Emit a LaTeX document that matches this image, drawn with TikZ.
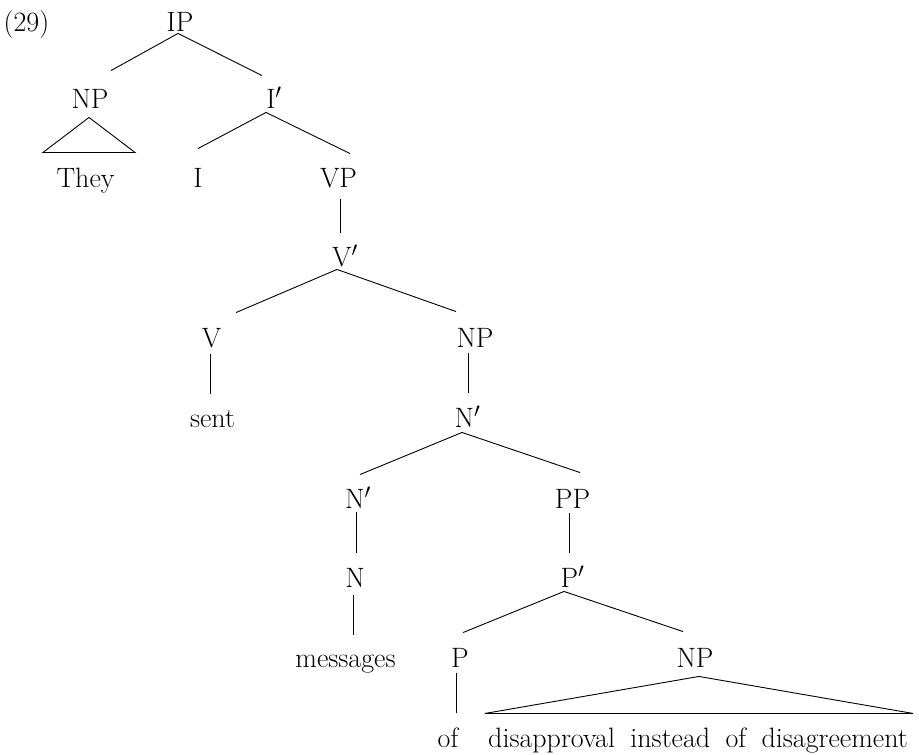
\documentclass[tikz,border=0pt]{standalone}
\usetikzlibrary{calc}
\newcommand\treeedge[6]{\draw ([shift={(#2,#3)}]#1.south) -- ([shift={(#5,#6)}]#4.north);}
\begin{document}
\begin{tikzpicture}[x=1pt,y=-1pt,
  lab/.style={inner sep=0pt,text height=18pt,text depth=0pt,anchor=base,font=\fontsize{28}{32}\selectfont},
  every path/.style={line width=0.9pt}]
\useasboundingbox (0,0) rectangle (919,755);
\node[lab] (ex) at (26.5,31) {(29)};
\node[lab] (ip) at (180,31) {IP};
\node[lab] (np1) at (90,108) {NP};
\node[lab] (ib) at (274,108) {I$'$};
\node[lab] (they) at (85.5,187) {They};
\node[lab] (i) at (198,187) {I};
\node[lab] (vp) at (338.5,187) {VP};
\node[lab] (vb) at (345,266) {V$'$};
\node[lab] (v) at (211.5,347) {V};
\node[lab] (np2) at (475,347) {NP};
\node[lab] (sent) at (212.5,427) {sent};
\node[lab] (nb1) at (467.5,427) {N$'$};
\node[lab] (nb2) at (358,508) {N$'$};
\node[lab] (pp) at (572.5,508) {PP};
\node[lab] (n) at (355,587) {N};
\node[lab] (pb) at (572.5,587) {P$'$};
\node[lab] (msg) at (345.5,667) {messages};
\node[lab] (p) at (460,667) {P};
\node[lab] (np3) at (695,667) {NP};
\node[lab] (of) at (448,747) {of};
\node[lab] (phr) at (698,747) {disapproval\hspace{0.55em}instead\hspace{0.55em}of\hspace{0.55em}disagreement};
% edges
\treeedge{ip}{-2}{2}{np1}{21}{-19}
\treeedge{ip}{-2}{2}{ib}{-12}{-14}
\draw ([shift={(-1,9)}]np1.south) -- ([shift={(-47,44)}]np1.south) -- ([shift={(45,44)}]np1.south) -- cycle;
\treeedge{ib}{-8}{4}{i}{0}{-20}
\treeedge{ib}{-8}{4}{vp}{11.5}{-15}
\treeedge{vp}{1.5}{12}{vb}{-5}{-15}
\treeedge{vb}{-8}{3}{v}{24.5}{-16}
\treeedge{vb}{-8}{3}{np2}{-19}{-17}
\treeedge{v}{-1.5}{7}{sent}{-2.5}{-15}
\treeedge{np2}{-7}{6}{nb1}{0.5}{-16}
\treeedge{nb1}{-5.5}{5}{nb2}{2}{-15}
\treeedge{nb1}{-5.5}{5}{pp}{7.5}{-17}
\treeedge{nb2}{-2}{4}{n}{1}{-16}
\treeedge{pp}{-3.5}{5}{pb}{-3.5}{-16}
\treeedge{n}{-2}{8}{msg}{7.5}{-14}
\treeedge{pb}{-8.5}{4}{p}{3}{-16}
\treeedge{pb}{-8.5}{4}{np3}{-12}{-17}
\treeedge{p}{-4}{6}{of}{8}{-16}
\draw ([shift={(4,9)}]np3.south) -- ([shift={(-210,46)}]np3.south) -- ([shift={(218,46)}]np3.south) -- cycle;
\end{tikzpicture}
\end{document}
